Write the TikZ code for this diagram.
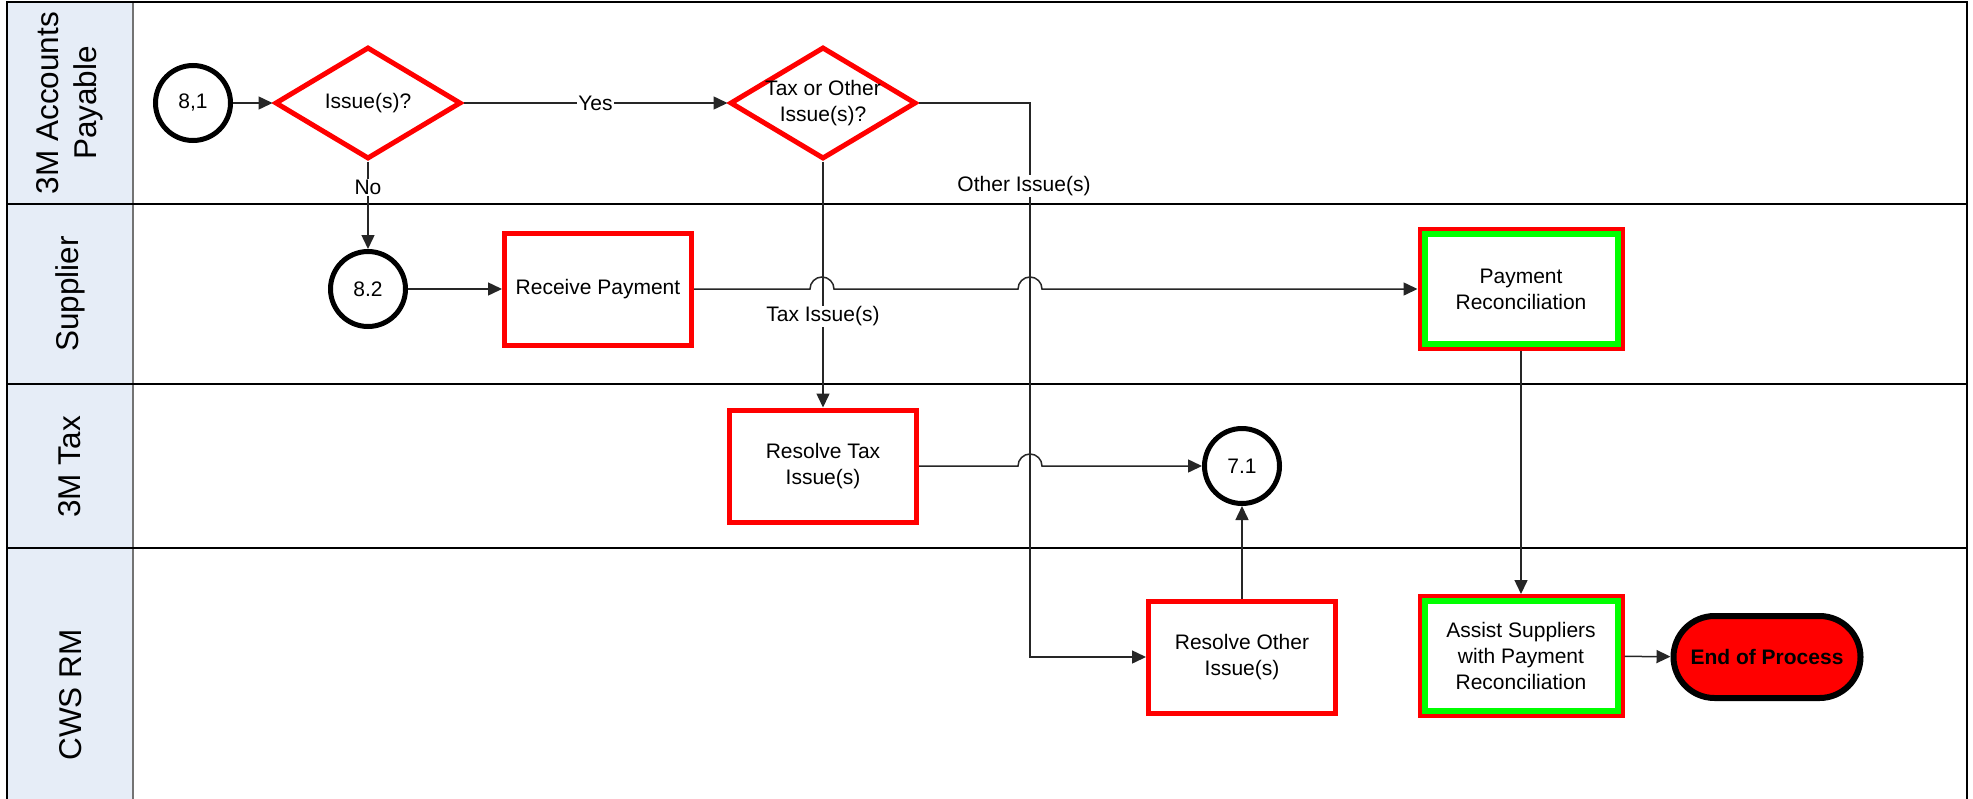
\documentclass[tikz,border=0pt]{standalone}
\usepackage{fontspec}
\setmainfont{Liberation Sans}
\usetikzlibrary{shapes.geometric,arrows.meta}
\definecolor{hdr}{RGB}{230,237,247}
\definecolor{pred}{RGB}{255,0,0}
\definecolor{pgreen}{RGB}{0,255,0}
\begin{document}
\begin{tikzpicture}[x=1pt,y=-1pt,
  font=\fontsize{21}{26}\selectfont,
  conn/.style={line width=1.5pt, draw=black!85, -{Triangle[length=14pt,width=13pt]}},
  lbl/.style={fill=white, inner sep=1pt},
  lanehead/.style={rotate=90, align=center, font=\fontsize{31.5}{38}\selectfont},
  stepbox/.style={draw=pred, line width=5pt, minimum width=187pt, minimum height=112pt, align=center, inner sep=0pt},
  dec/.style={diamond, draw=pred, line width=5pt, minimum width=186pt, minimum height=112pt, inner sep=0pt},
  conncircle/.style={circle, draw=black, line width=5pt, minimum size=75pt, inner sep=0pt},
  dblbox/.style={draw=pred, line width=4pt, minimum width=203pt, minimum height=120pt, align=center, inner sep=0pt},
  endbox/.style={draw=black, fill=pred, line width=6pt, rounded corners=41pt, minimum width=187pt, minimum height=82pt, font=\bfseries\fontsize{21}{26}\selectfont},
  ]
\fill[white] (0,0) rectangle (1973,798);
\useasboundingbox (0,0) rectangle (1973,798);
% swimlane frame
\fill[hdr] (7,2) rectangle (133,800);
\draw[line width=2pt, black!55] (133,2) -- (133,800);
\foreach \yy in {204,384,548} \draw[line width=2pt] (7,\yy) -- (1967,\yy);
\draw[line width=2pt] (7,800) -- (7,2) -- (1967,2) -- (1967,800);
% lane headers
\node[lanehead] (h1) at (70,103) {3M Accounts\\Payable};
\node[lanehead] (h2) at (70,294) {Supplier};
\node[lanehead] (h3) at (70,467) {3M Tax};
\node[lanehead] (h4) at (71,695) {CWS RM};
% nodes
\node[conncircle] (c81) at (193,103) {8,1};
\node[dec, label=center:{Issue(s)?}] (d1) at (368,103) {};
\node[conncircle] (c82) at (368,289) {8.2};
\node[stepbox] (rp) at (598,289) {Receive Payment};
\node[dec, label={[align=center]center:Tax or Other\\Issue(s)?}] (d2) at (823,103) {};
\node[stepbox] (rt) at (823,466) {Resolve Tax\\Issue(s)};
\node[conncircle] (c71) at (1242,466) {7.1};
\node[stepbox] (ro) at (1242,657) {Resolve Other\\Issue(s)};
\node[dblbox] (pr) at (1521,289) {Payment\\Reconciliation};
\node[dblbox] (as) at (1521,656) {Assist Suppliers\\with Payment\\Reconciliation};
\node[endbox] (eop) at (1767,657) {End of Process};
\foreach \n in {pr,as}
  \draw[pgreen, line width=6pt] ([xshift=7pt,yshift=-7pt]\n.north west) rectangle ([xshift=-7pt,yshift=7pt]\n.south east);
% connectors
\draw[conn] (c81) -- (d1);
\draw[conn] (d1) -- node[lbl]{Yes} (d2);
\draw[conn] (d1) -- node[lbl, pos=0.3]{No} (c82);
\draw[conn] (c82) -- (rp);
\draw[conn] (d2) -- node[lbl, pos=0.63]{Tax Issue(s)} (rt);
\draw[conn] (d2.east) -- (1030,103) -- node[lbl, pos=0.15, xshift=-6pt]{Other Issue(s)} (1030,657) -- (ro.west);
\draw[conn] (rp.east) -- (810,289) arc[start angle=180, end angle=0, radius=12pt] -- (1018,289) arc[start angle=180, end angle=0, radius=12pt] -- (pr.west);
\draw[conn] (rt.east) -- (1018,466) arc[start angle=180, end angle=0, radius=12pt] -- (c71.west);
\draw[conn] (ro) -- (c71);
\draw[conn] (pr) -- (as);
\draw[conn] (as) -- (eop);
\end{tikzpicture}
\end{document}
